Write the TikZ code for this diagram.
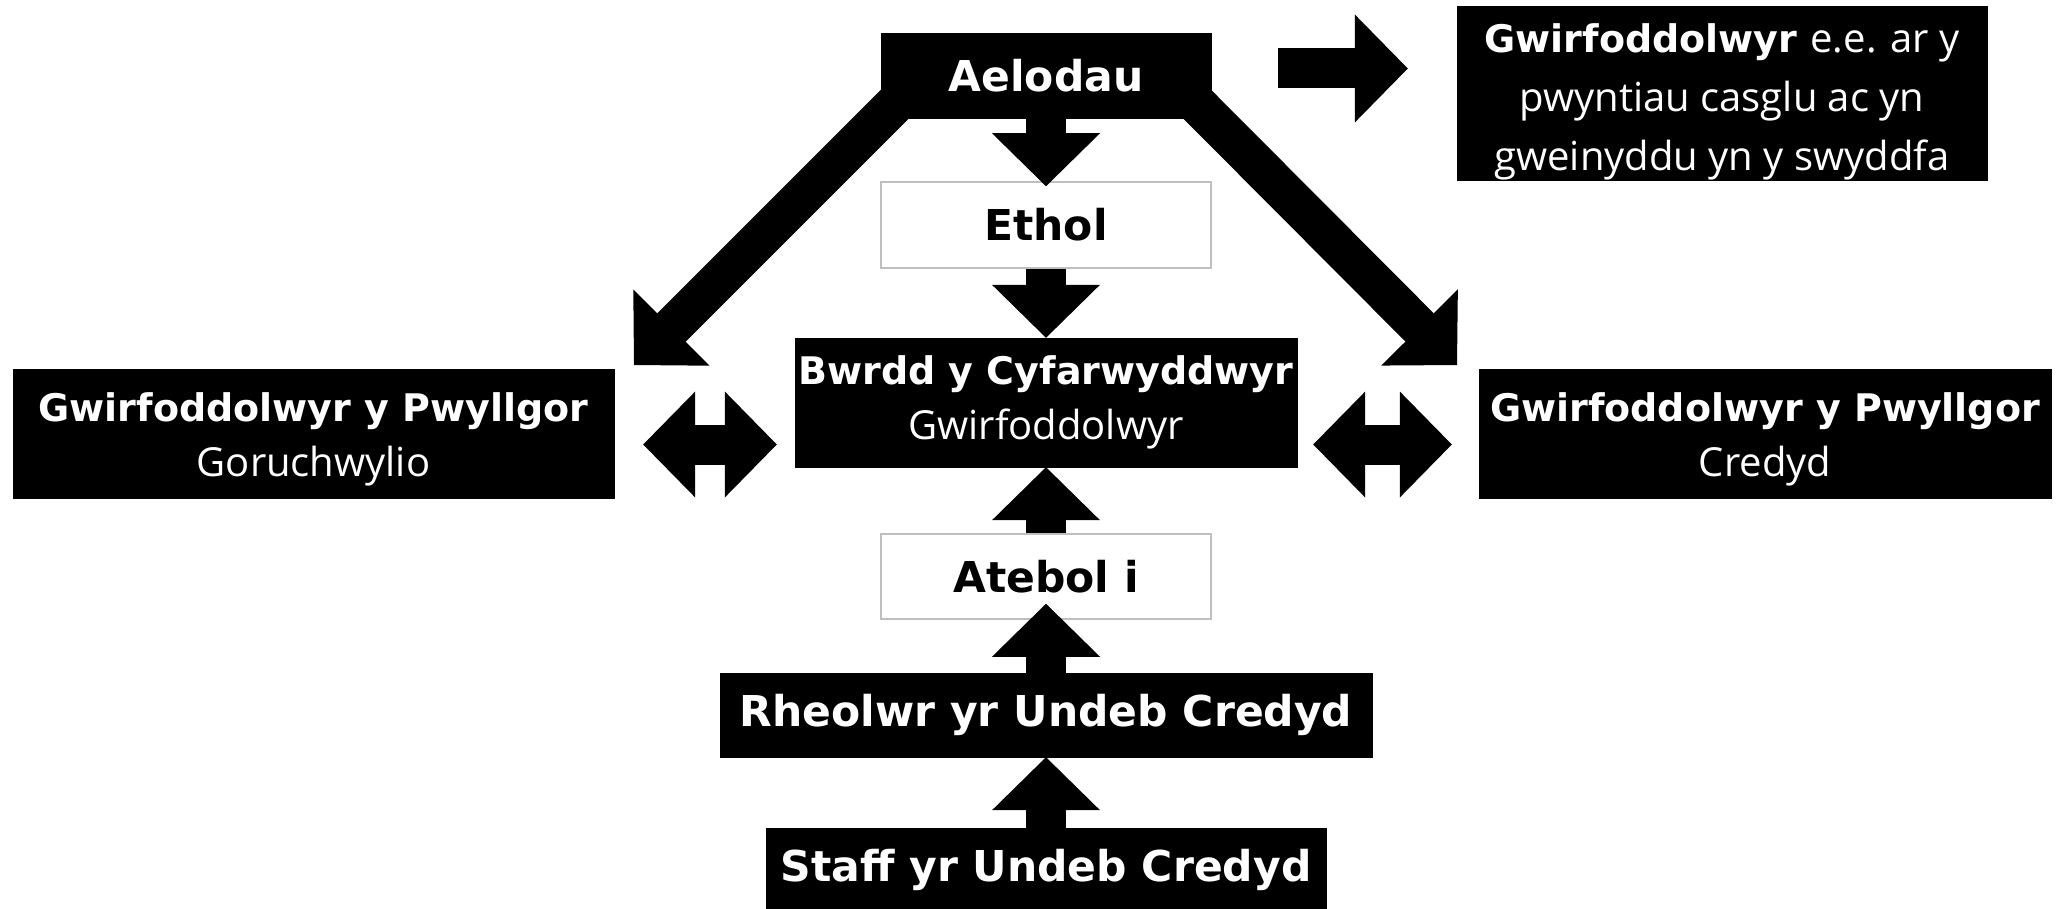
\documentclass[tikz,border=0pt]{standalone}
\usepackage{fontspec}
\setmainfont{DejaVu Sans}
\newfontfamily\thinfont{Open Sans}
\usepackage{tikz}
\usetikzlibrary{
	calc,
	arrows.meta}
\newcommand{\thintext}[1]{{\thinfont\mdseries\fontsize{40}{55}\selectfont #1}}

\begin{document}
\begin{tikzpicture}[x=1pt,y=-1pt,
    blackbox/.style={fill=black,draw=black,text=white,inner sep=0pt,align=center,
      font=\bfseries\fontsize{42.5}{56}\selectfont},
    twoline/.style={blackbox,font=\bfseries\fontsize{38}{55}\selectfont},
    whitebox/.style={fill=white,draw=black!25,line width=1.5pt,inner sep=0pt,
      font=\bfseries\fontsize{42.5}{56}\selectfont},
    fat/.style={line width=40pt,-{Triangle[length=53pt,width=108pt,line width=0pt]}},
    fatboth/.style={line width=40pt,
      {Triangle[length=52pt,width=106pt,line width=0pt]}-{Triangle[length=52pt,width=106pt,line width=0pt]}}]
    \useasboundingbox (0,0) rectangle (2065,909);

    \node[blackbox,minimum width=330pt,minimum height=85pt] (A0) at (1046,75.5) {Aelodau};
    \node[twoline,minimum width=530pt,minimum height=172pt,font=\bfseries\fontsize{38}{59}\selectfont] (V0) at (1722,93)
      {\rule{0pt}{46pt}Gwirfoddolwyr \thintext{e.e. ar y}\\\thintext{pwyntiau casglu ac yn}\\\thintext{gweinyddu yn y swyddfa}};
    \node[whitebox,minimum width=330pt,minimum height=86pt] (E1) at (1046,225) {Ethol};
    \node[twoline,minimum width=502pt,minimum height=129pt] (B2) at (1046,402.5)
      {Bwrdd y Cyfarwyddwyr\\\thintext{Gwirfoddolwyr}};
    \node[twoline,minimum width=601pt,minimum height=129pt] (GL2) at (313.5,433.5)
      {\rule{0pt}{41pt}Gwirfoddolwyr y Pwyllgor\\\thintext{Goruchwylio}};
    \node[twoline,minimum width=572pt,minimum height=129pt] (GR2) at (1765,433.5)
      {\rule{0pt}{41pt}Gwirfoddolwyr y Pwyllgor\\\thintext{Credyd}};
    \node[whitebox,minimum width=330pt,minimum height=85pt] (AT3) at (1046,576.5) {Atebol i};
    \node[blackbox,minimum width=652pt,minimum height=84pt] (R4) at (1046,715) {Rheolwr yr Undeb Credyd};
    \node[blackbox,minimum width=560pt,minimum height=84pt] (S5) at (1046,870) {Staff yr Undeb Credyd};
    \coordinate (TL) at (634,365);
    \coordinate (TR) at (1457,365);

    \draw [fat] (A0.south) to ($(E1.north)+(0,5)$);
    \draw [fat] (E1.south) to (B2.north);
    \draw [fat,line cap=rect] ($(A0.south west)+(20,-20)$) to (TL);
    \draw [fat,line cap=rect] ($(A0.south east)+(-20,-20)$) to (TR);
    \draw [fat] ($(A0.east)+(67,-7)$) to ($(A0.east -| V0.west)+(-49,-7)$);
    \draw [fatboth] ($(GL2.east)+(29,11)$) to ($(GL2.east -| B2.west)+(-18,11)$);
    \draw [fatboth] ($(GR2.west -| B2.east)+(16,11)$) to ($(GR2.west)+(-27,11)$);
    \draw [fat] (AT3.north) to (B2.south);
    \draw [fat] (R4.north) to ($(AT3.south)+(0,-16)$);
    \draw [fat] (S5.north) to (R4.south);
  \end{tikzpicture}
\end{document}
